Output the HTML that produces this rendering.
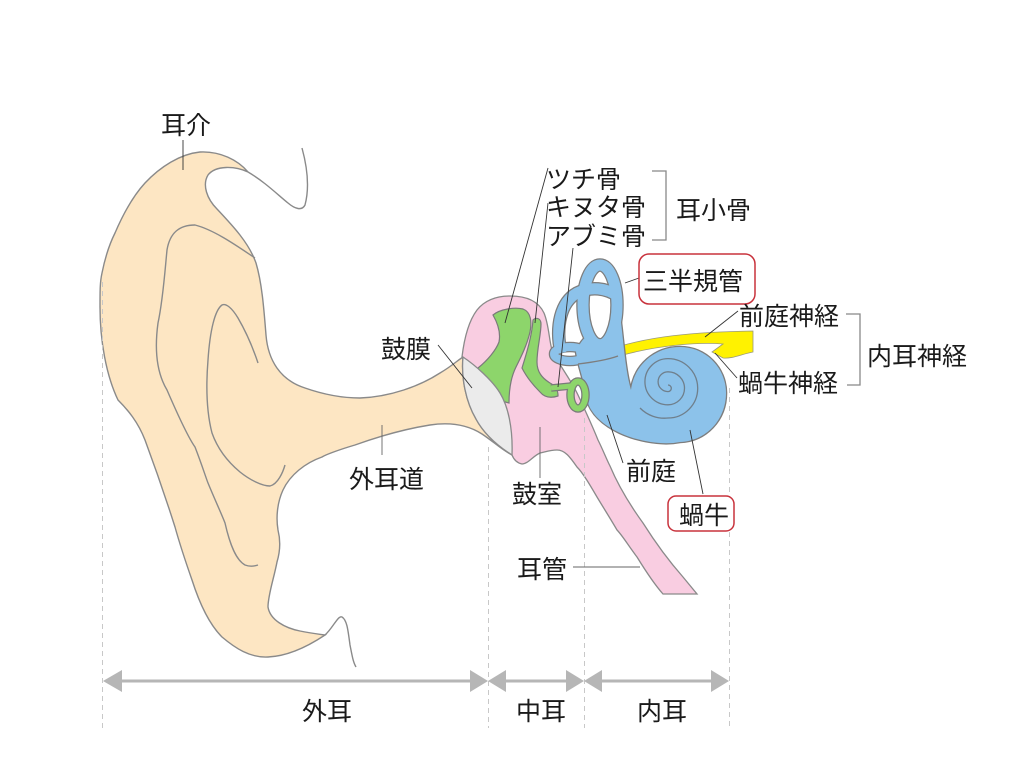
<!DOCTYPE html>
<html><head><meta charset="utf-8"><style>
html,body{margin:0;padding:0;background:#fff;}
svg{display:block;}
text{font-family:"Liberation Sans","Noto Sans CJK JP",sans-serif;font-size:25px;fill:#1a1a1a;}
</style></head><body>
<svg width="1024" height="768" viewBox="0 0 1024 768" xmlns="http://www.w3.org/2000/svg">
<rect width="1024" height="768" fill="#fff"/>

<!-- Outer ear -->
<path d="M 200,152 C 220,151 238,160 248,172 C 235,166 216,165 208,175 C 202,185 207,199 217,209 C 233,226 249,243 256,263 C 262,283 264,310 266,335 C 268,360 280,380 305,388 C 325,395 345,398 360,398 C 390,397 420,386 440,373 C 452,366 458,360 463,357 C 461,378 466,402 476,419 C 484,434 498,446 512,455 C 502,450 494,442 482,434 C 468,425 450,422 430,425 C 405,429 380,436 355,445 C 338,450 325,455 322,457 C 305,463 290,475 283,490 C 277,503 276,518 278,530 C 281,542 280,552 277,562 C 274,578 268,595 268,607 C 270,620 285,628 300,631 C 310,633 318,634 325,635 C 310,645 290,656 268,657 C 250,658 235,648 222,637 C 210,625 200,605 192,580 C 185,560 180,545 175,527 C 168,505 158,475 145,440 C 138,422 128,410 118,400 C 106,375 100,340 100,307 C 100,290 100,282 102,273 C 105,258 109,245 115,233 C 124,212 134,195 145,183 C 160,167 180,154 200,152 Z" fill="#fde6c3" stroke="#8a8a8a" stroke-width="1.4"/>
<path d="M 248,172 C 265,182 278,195 288,203 C 295,209 302,211 305,205 C 309,190 308,170 302,148" fill="none" stroke="#8a8a8a" stroke-width="1.4"/>
<path d="M 325,635 C 333,628 338,615 342,617 C 347,620 348,630 350,645 C 352,655 353,662 356,667" fill="none" stroke="#8a8a8a" stroke-width="1.4"/>
<path d="M 255,258 C 240,248 215,230 195,225 C 180,225 170,232 167,250 C 165,270 163,300 158,323 C 155,345 155,370 167,390 C 180,420 190,440 195,447 C 202,465 206,478 208,483 C 215,500 222,515 225,523 C 230,545 236,560 245,565 C 250,567 255,566 258,565" fill="none" stroke="#8a8a8a" stroke-width="1.4"/>
<path d="M 258,363 C 252,345 245,330 238,318 C 232,308 226,303 222,305 C 215,310 210,330 208,360 C 206,385 206,410 212,433 C 218,450 228,462 240,472 C 250,480 262,486 270,486 C 278,484 283,472 285,465" fill="none" stroke="#8a8a8a" stroke-width="1.4"/>

<!-- Middle ear (pink) -->
<path d="M 462,357 C 464,340 468,322 477,310 C 485,300 497,296 510,296 C 525,296 538,300 544,313 C 549,325 549,340 552,350 C 557,362 570,378 578,395 C 585,410 592,425 598,440 C 603,450 606,458 610,466 C 618,485 630,505 643,523 C 655,542 668,560 683,577 L 697,594 L 663,594 C 655,585 645,570 637,557 C 628,545 622,535 617,530 C 610,518 603,507 597,497 C 590,485 583,473 577,467 C 570,457 565,450 557,450 C 550,450 545,452 540,453 C 533,456 528,464 522,464 C 517,463 514,460 512,455 Z" fill="#f9cde1" stroke="#8a8a8a" stroke-width="1.3"/>

<!-- Malleus & incus -->
<path d="M 493,315 C 500,309 515,307 523,309 C 531,312 532,322 530,332 C 527,345 521,357 516,367 C 511,377 509,389 509,403 L 498,400 C 490,390 483,380 478,368 C 488,360 496,350 499,342 C 501,332 497,322 493,315 Z" fill="#8dd56b" stroke="#7a7a7a" stroke-width="1.2"/>
<path d="M 533,320 C 536,317 541,318 541,324 C 541,335 537,348 537,362 C 537,372 542,378 550,383 C 556,386 558,390 558,396 C 552,398 545,398 540,392 C 533,385 527,378 522,368 C 527,352 532,335 533,320 Z" fill="#8dd56b" stroke="#7a7a7a" stroke-width="1.2"/>

<!-- Eardrum -->
<path d="M 463,357 C 475,365 492,380 500,393 C 508,406 513,428 512,455 C 498,446 484,434 476,419 C 466,402 461,378 463,357 Z" fill="#ebebeb" stroke="#8a8a8a" stroke-width="1.3"/>

<!-- Nerve (yellow) -->
<path d="M 617,347 C 650,337 690,332 753,331 L 753,352 C 742,354 732,359 723,358 L 712,352 L 723,344 C 700,342 660,345 623,355 Z" fill="#fff200" stroke="#9a9a7a" stroke-width="0.8"/>

<!-- Inner ear outline layer -->
<g fill="none" stroke="#7d7d7d">
  <ellipse cx="600" cy="305" rx="17" ry="40" stroke-width="13.5"/>
  <path d="M 561,353 C 555,326 561,302 577,293 C 591,286 606,288 618,296" stroke-width="13.5"/>
  <ellipse cx="570" cy="354" rx="16" ry="7" stroke-width="10.5"/>
  <path d="M 576,352 C 580,342 586,334 592,336 C 598,340 605,342 612,332 L 620,315 C 623,335 625,370 631,390 C 634,365 655,347 680,347 C 706,347 726,368 726,393 C 726,420 706,441 680,442 C 660,446 632,440 614,430 C 598,421 588,410 586,395 C 584,380 578,365 576,352 Z" fill="#7d7d7d" stroke-width="2.6"/>
</g>
<!-- Inner ear fill layer -->
<g fill="none" stroke="#8cc2ea">
  <path d="M 576,352 C 580,342 586,334 592,336 C 598,340 605,342 612,332 L 620,315 C 623,335 625,370 631,390 C 634,365 655,347 680,347 C 706,347 726,368 726,393 C 726,420 706,441 680,442 C 660,446 632,440 614,430 C 598,421 588,410 586,395 C 584,380 578,365 576,352 Z" fill="#8cc2ea" stroke="none"/>
  <ellipse cx="600" cy="305" rx="17" ry="40" stroke-width="11"/>
  <path d="M 561,353 C 555,326 561,302 577,293 C 591,286 606,288 618,296" stroke-width="11"/>
  <ellipse cx="570" cy="354" rx="16" ry="7" stroke-width="8"/>
</g>
<path d="M 578,364 C 595,362 607,360 618,356" fill="none" stroke="#7d7d7d" stroke-width="1.2"/>
<path d="M 668,385 A 3.3,3.3 0 0 1 668,391.6 A 9.9,9.9 0 0 1 668,371.8 A 16.5,16.5 0 0 1 668,404.8 A 23.1,23.1 0 0 1 668,358.6 A 29.7,29.7 0 0 1 668,418 A 34,34 0 0 1 640,408" fill="none" stroke="#6f7f8c" stroke-width="1.3"/>

<!-- Stapes -->
<path d="M 551,388 L 571,386" stroke="#7a7a7a" stroke-width="7.5" fill="none"/>
<ellipse cx="578" cy="395" rx="7.5" ry="13.5" fill="none" stroke="#7a7a7a" stroke-width="8.5"/>
<path d="M 551,388 L 571,386" stroke="#8dd56b" stroke-width="5" fill="none"/>
<ellipse cx="578" cy="395" rx="7.5" ry="13.5" fill="none" stroke="#8dd56b" stroke-width="6"/>

<!-- Dashed section lines -->
<g stroke="#c8c8c8" stroke-width="1" stroke-dasharray="5,4" fill="none">
  <line x1="102.5" y1="282" x2="102.5" y2="728"/>
  <line x1="488.5" y1="447" x2="488.5" y2="728"/>
  <line x1="584.5" y1="418" x2="584.5" y2="728"/>
  <line x1="729.5" y1="388" x2="729.5" y2="728"/>
</g>

<!-- Arrows -->
<g fill="#b6b6b6" stroke="none">
  <rect x="112" y="679.5" width="366" height="3"/>
  <rect x="498" y="679.5" width="76" height="3"/>
  <rect x="594" y="679.5" width="126" height="3"/>
  <polygon points="103,681 122,670 122,692"/>
  <polygon points="488,681 470,670 470,692"/>
  <polygon points="488,681 506,670 506,692"/>
  <polygon points="584,681 566,670 566,692"/>
  <polygon points="584,681 602,670 602,692"/>
  <polygon points="729,681 711,670 711,692"/>
</g>

<!-- Leaders -->
<g stroke="#333" stroke-width="0.9" fill="none">
  <line x1="183" y1="140" x2="183" y2="170"/>
  <line x1="438" y1="345" x2="472" y2="388"/>
  <line x1="548" y1="168" x2="505" y2="323"/>
  <line x1="548" y1="203" x2="535" y2="323"/>
  <line x1="573" y1="248" x2="558" y2="387"/>
  <line x1="639" y1="278" x2="625" y2="283"/>
  <line x1="738" y1="311" x2="705" y2="337"/>
  <line x1="737" y1="378" x2="715" y2="353"/>
  <line x1="607" y1="415" x2="623" y2="463"/>
  <line x1="690" y1="430" x2="703" y2="494"/>
</g>
<g stroke="#666" stroke-width="0.9" fill="none">
  <line x1="382" y1="425" x2="382" y2="455"/>
  <line x1="540" y1="427" x2="540" y2="478"/>
  <line x1="573" y1="567" x2="640" y2="567"/>
</g>
<!-- Brackets -->
<g stroke="#888" stroke-width="1.3" fill="none">
  <path d="M 652,171 H 666 V 240 H 652"/>
  <path d="M 846,314 H 860 V 385 H 847"/>
</g>
<!-- Red boxes -->
<rect x="639" y="254" width="116" height="50" rx="10" fill="#fff" stroke="#c8323c" stroke-width="1.5"/>
<rect x="668" y="496" width="66" height="35" rx="8" fill="#fff" stroke="#c8323c" stroke-width="1.5"/>

<!-- Labels -->
<text x="161" y="134">耳介</text>
<text x="546" y="188">ツチ骨</text>
<text x="546" y="216">キヌタ骨</text>
<text x="546" y="245">アブミ骨</text>
<text x="676" y="219">耳小骨</text>
<text x="643" y="290">三半規管</text>
<text x="739" y="325">前庭神経</text>
<text x="738" y="392">蝸牛神経</text>
<text x="867" y="365">内耳神経</text>
<text x="381" y="358">鼓膜</text>
<text x="349" y="488">外耳道</text>
<text x="512" y="503">鼓室</text>
<text x="626" y="480">前庭</text>
<text x="679" y="524">蝸牛</text>
<text x="517" y="578">耳管</text>
<text x="302" y="720">外耳</text>
<text x="516" y="720">中耳</text>
<text x="637" y="720">内耳</text>
</svg>
</body></html>
